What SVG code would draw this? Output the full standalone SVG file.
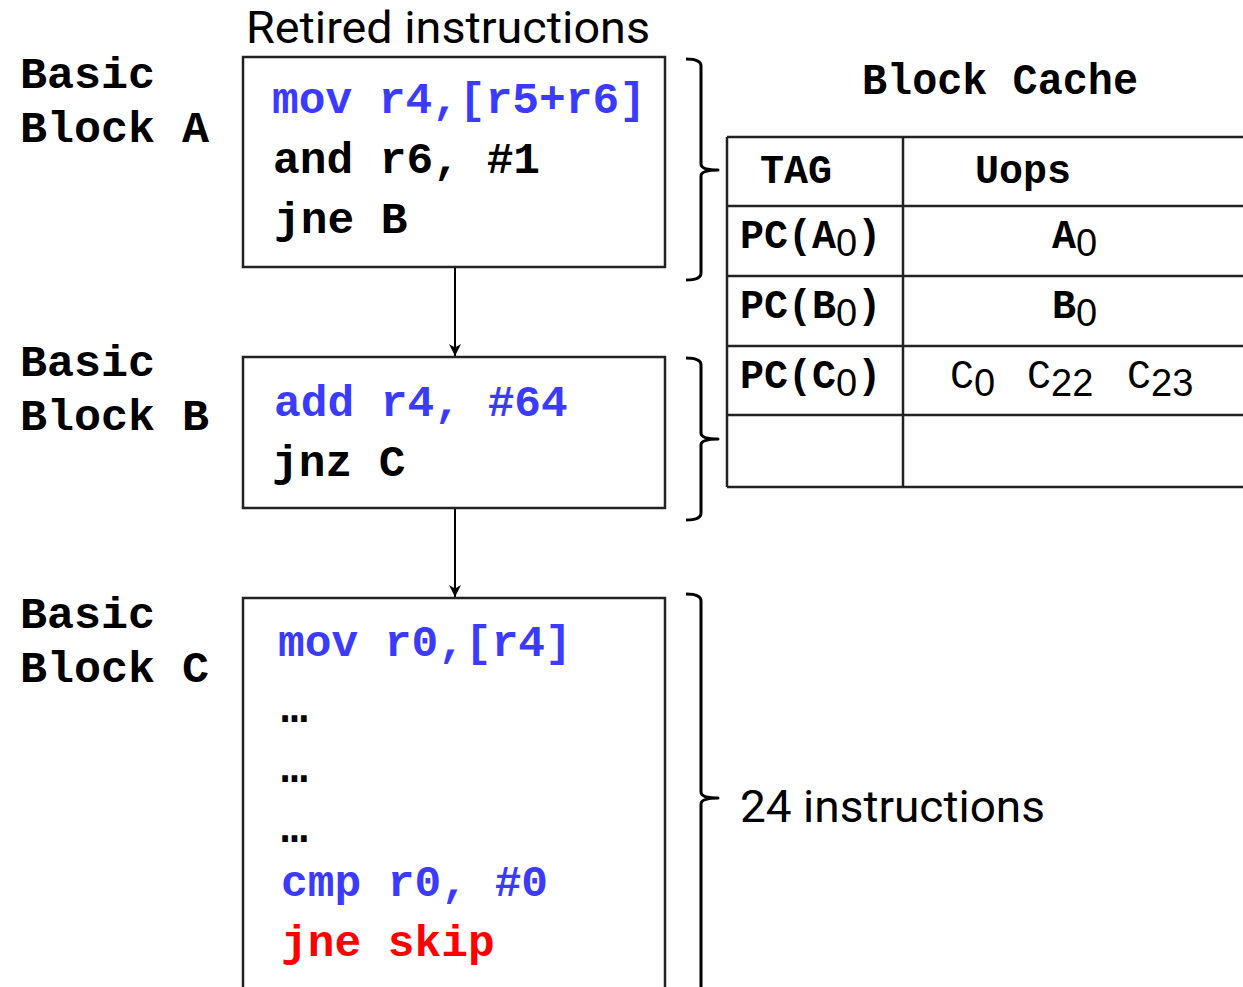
<svg xmlns="http://www.w3.org/2000/svg" width="1243" height="987" viewBox="0 0 1243 987">
  <style>
    .code { font-family: "Liberation Mono", "Courier New", monospace; font-weight: bold; font-size: 44.5px; fill: #000; }
    .blue { fill: #3b3bff; }
    .red { fill: #ff0000; }
    .label { font-family: "Liberation Mono", "Courier New", monospace; font-weight: bold; font-size: 45px; fill: #000; }
    .cell { font-family: "Liberation Mono", "Courier New", monospace; font-weight: bold; font-size: 40px; fill: #000; }
    .cellr { font-family: "Liberation Mono", "Courier New", monospace; font-weight: normal; font-size: 40px; fill: #000; }
    .sub { font-family: "Liberation Sans", Arial, sans-serif; font-weight: normal; font-size: 38px; }
    .note { font-family: Roboto, "Liberation Sans", sans-serif; font-size: 44px; fill: #000; }
    .box { fill: #fff; stroke: #222; stroke-width: 2.5; }
    .grid { fill: none; stroke: #222; stroke-width: 2.5; }
    .brace { fill: none; stroke: #000; stroke-width: 3; stroke-linejoin: round; }
    .edge { fill: none; stroke: #000; stroke-width: 2; }
  </style>
  <defs>
    <marker id="arrow" markerWidth="12" markerHeight="12" refX="10" refY="5" orient="auto" markerUnits="userSpaceOnUse" viewBox="0 0 10 10">
      <path d="M0,0 L10,5 L0,10 L3,5 z" fill="#000"/>
    </marker>
  </defs>

  <rect width="1243" height="987" fill="#fff"/>

  <text class="note" x="246" y="43" textLength="404" lengthAdjust="spacingAndGlyphs">Retired instructions</text>

  <!-- control-flow edges between basic blocks -->
  <g id="connectors">
    <line class="edge" x1="455" y1="267" x2="455" y2="356" marker-end="url(#arrow)"/>
    <line class="edge" x1="455" y1="508" x2="455" y2="597" marker-end="url(#arrow)"/>
  </g>

  <g id="block-a">
    <text class="label" x="20" y="88">Basic</text>
    <text class="label" x="20" y="142">Block A</text>
    <rect class="box" x="243" y="57" width="422" height="210"/>
    <text class="code blue" x="272" y="113">mov r4,[r5+r6]</text>
    <text class="code" x="273" y="173">and r6, #1</text>
    <text class="code" x="274" y="233">jne B</text>
  </g>

  <g id="block-b">
    <text class="label" x="20" y="376">Basic</text>
    <text class="label" x="20" y="430">Block B</text>
    <rect class="box" x="243" y="357" width="422" height="151"/>
    <text class="code blue" x="274" y="416">add r4, #64</text>
    <text class="code" x="272" y="476">jnz C</text>
  </g>

  <g id="block-c">
    <text class="label" x="20" y="628">Basic</text>
    <text class="label" x="20" y="682">Block C</text>
    <rect class="box" x="243" y="598" width="422" height="400"/>
    <text class="code blue" x="278" y="656">mov r0,[r4]</text>
    <text class="code" x="281" y="722">…</text>
    <text class="code" x="281" y="782">…</text>
    <text class="code" x="281" y="842">…</text>
    <text class="code blue" x="281" y="896">cmp r0, #0</text>
    <text class="code red" x="281" y="956">jne skip</text>
  </g>

  <!-- braces grouping instructions -->
  <g id="braces">
    <path class="brace" d="M686,59 Q701,59 701,66 L701,164 Q701,170 718,170 Q701,170 701,176 L701,273 Q701,280 686,280"/>
    <path class="brace" d="M686,358 Q701,358 701,365 L701,433 Q701,439 718,439 Q701,439 701,445 L701,513 Q701,520 686,520"/>
    <path class="brace" d="M686,594 Q701,594 701,601 L701,792 Q701,798 718,798 Q701,798 701,804 L701,990"/>
  </g>

  <text class="note" x="740" y="822" textLength="305" lengthAdjust="spacingAndGlyphs">24 instructions</text>

  <g id="block-cache">
    <text class="label" x="862" y="94" font-size="42" textLength="276" lengthAdjust="spacingAndGlyphs">Block Cache</text>
    <path class="grid" d="M727,137 H1250 M727,206 H1250 M727,276 H1250 M727,346 H1250 M727,415 H1250 M727,487 H1250 M727,137 V487 M903,137 V487"/>
    <text class="cell" x="760" y="183">TAG</text>
    <text class="cell" x="975" y="183">Uops</text>

    <text class="cell" x="740" y="248">PC(A<tspan class="sub" dy="8">0</tspan><tspan dy="-8">)</tspan></text>
    <text class="cell" x="1052" y="248">A<tspan class="sub" dy="8">0</tspan></text>

    <text class="cell" x="740" y="318">PC(B<tspan class="sub" dy="8">0</tspan><tspan dy="-8">)</tspan></text>
    <text class="cell" x="1052" y="318">B<tspan class="sub" dy="8">0</tspan></text>

    <text class="cell" x="740" y="388">PC(C<tspan class="sub" dy="8">0</tspan><tspan dy="-8">)</tspan></text>
    <text class="cellr" x="950" y="388">C<tspan class="sub" dy="8">0</tspan></text>
    <text class="cellr" x="1027" y="388">C<tspan class="sub" dy="8">22</tspan></text>
    <text class="cellr" x="1127" y="388">C<tspan class="sub" dy="8">23</tspan></text>
  </g>
</svg>
